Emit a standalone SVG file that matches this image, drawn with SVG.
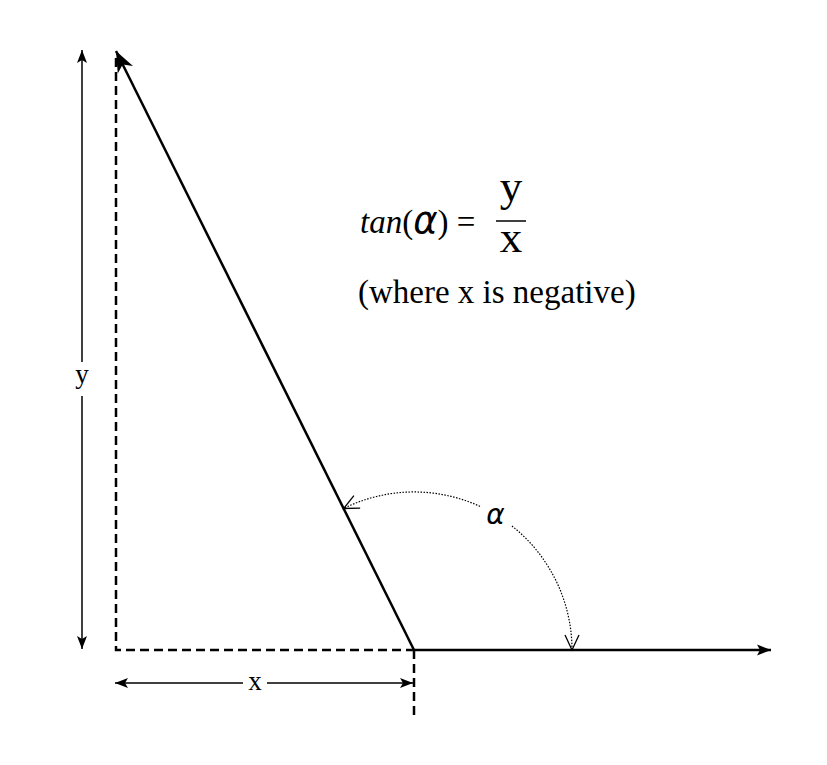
<svg xmlns="http://www.w3.org/2000/svg" width="827" height="765" viewBox="0 0 827 765">
<style>
.serif{font-family:"Liberation Serif","Times New Roman",serif;fill:#000}
.sans{font-family:"DejaVu Sans",sans-serif;fill:#000;font-style:italic}
.main{stroke:#000;stroke-width:2.5;fill:none}
.dash{stroke:#000;stroke-width:2.5;fill:none;stroke-dasharray:9,5}
.dim{stroke:#000;stroke-width:1.5;fill:none}
.arc{stroke:#000;stroke-width:1.2;fill:none;stroke-dasharray:1.5,1.5}
</style>
<defs>
<marker id="bigHead" markerUnits="userSpaceOnUse" orient="auto" refX="0" refY="0" markerWidth="30" markerHeight="30" overflow="visible">
<path d="M0,0 L-21,-8.5 L-15,0 L-21,8.5 Z" fill="#000"/>
</marker>
<marker id="axHead" markerUnits="userSpaceOnUse" orient="auto" refX="0" refY="0" markerWidth="30" markerHeight="30" overflow="visible">
<path d="M0,0 L-14,-5.5 L-11,0 L-14,5.5 Z" fill="#000"/>
</marker>
<marker id="dimHead" markerUnits="userSpaceOnUse" orient="auto-start-reverse" refX="0" refY="0" markerWidth="30" markerHeight="30" overflow="visible">
<path d="M0,0 L-13,-5 L-10,0 L-13,5 Z" fill="#000"/>
</marker>
<marker id="openHead" markerUnits="userSpaceOnUse" orient="auto-start-reverse" refX="0" refY="0" markerWidth="30" markerHeight="30" overflow="visible">
<path d="M-15,-7 L0,0 L-15,7" fill="none" stroke="#000" stroke-width="1.3"/>
</marker>
</defs>

<g id="guides">
<path class="dash" d="M116,58 V650 H414"/>
<path class="dash" d="M414,650 V716"/>
</g>

<g id="connectors">
<line id="vector" class="main" x1="414" y1="650" x2="116" y2="51" marker-end="url(#bigHead)"/>
<line id="x-axis" class="main" x1="414" y1="650" x2="771" y2="650" marker-end="url(#axHead)"/>
<line id="y-dim" class="dim" x1="82" y1="50" x2="82" y2="649" marker-start="url(#dimHead)" marker-end="url(#dimHead)"/>
<line id="x-dim" class="dim" x1="115" y1="683" x2="413" y2="683" marker-start="url(#dimHead)" marker-end="url(#dimHead)"/>
<path id="angle-arc" class="arc" d="M572,650 A158,158 0 0 0 343.6,508.5" marker-start="url(#openHead)" marker-end="url(#openHead)"/>
</g>

<g id="label-y">
<rect x="72" y="362" width="20" height="34" fill="#fff"/>
<text class="serif" x="82" y="383" font-size="27" text-anchor="middle">y</text>
</g>
<g id="label-x">
<rect x="243" y="675" width="24" height="16" fill="#fff"/>
<text class="serif" x="255" y="690" font-size="27" text-anchor="middle">x</text>
</g>
<g id="label-alpha">
<rect x="481" y="502" width="30" height="26" fill="#fff"/>
<text class="sans" x="495.5" y="524" font-size="28" text-anchor="middle">α</text>
</g>

<g id="formula">
<text class="serif" x="360" y="233" font-size="33"><tspan font-style="italic">tan</tspan>(<tspan class="sans" font-family="DejaVu Sans" font-size="37">α</tspan>) =</text>
<text class="serif" x="511" y="201" font-size="45" text-anchor="middle">y</text>
<line x1="496" y1="221" x2="526" y2="221" stroke="#000" stroke-width="1.5"/>
<text class="serif" x="511" y="252" font-size="45" text-anchor="middle">x</text>
</g>
<g id="note">
<text class="serif" x="358" y="303" font-size="33">(where x is negative)</text>
</g>
</svg>
